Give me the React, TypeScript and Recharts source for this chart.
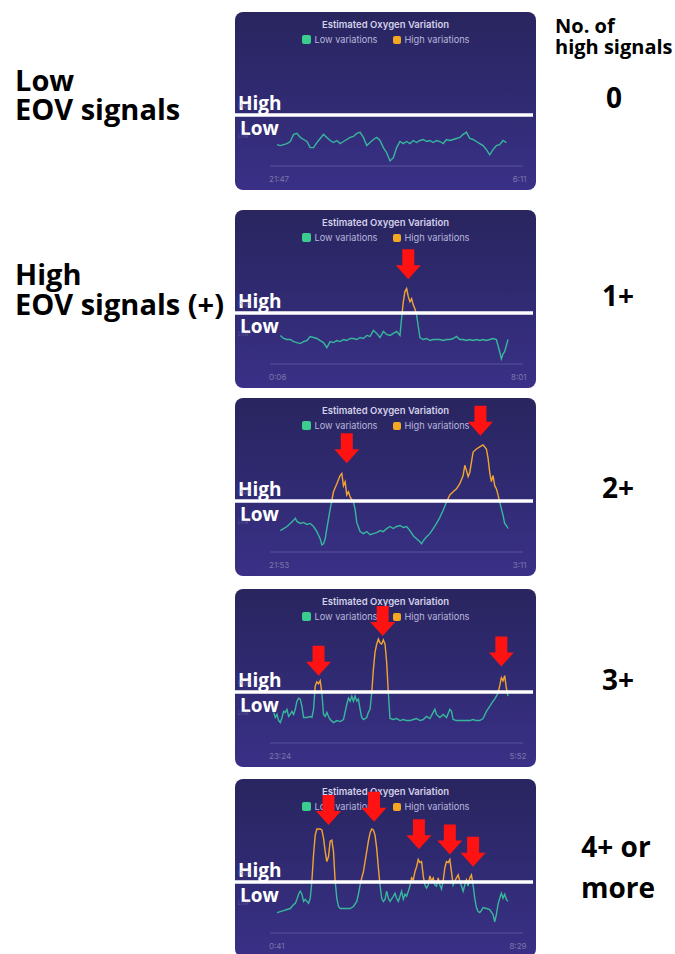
import React from 'react';
import { LineChart, Line, XAxis, YAxis, ReferenceLine, ReferenceDot } from 'recharts';

// ---------- shared settings ----------
const THRESHOLD = 50;
const Y_DOMAIN: [number, number] = [0, 150];
const EPOCH_DOMAIN: [number, number] = [0, 142];
const CHART_TITLE = 'Estimated Oxygen Variation';
const LEGEND_LABELS = ['Low variations', 'High variations'];
const Y_TICKS = [29, 59];
const Y_TICK_LABELS = ['Low', 'High'];

const LOW_COLOR = '#36b79b';
const HIGH_COLOR = '#f2a431';
const LOW_SWATCH = '#3acd8e';
const HIGH_SWATCH = '#f5a623';
const ARROW_COLOR = '#ff1212';

// ---------- night 1 (21:47 - 6:11) ----------
const night1Epoch = [3, 5, 7, 9, 11, 13, 15, 17, 19, 21, 23, 25, 27, 29, 31, 33, 35, 37, 39, 41, 43, 45, 47, 49, 51, 53, 55, 57, 59, 61, 63, 65, 67, 69, 71, 73, 75, 77, 79, 81, 83, 85, 87, 89, 91, 93, 95, 97, 99, 101, 103, 105, 107, 109, 111, 113, 115, 117, 119, 121, 123, 125, 127, 129, 131, 133, 135, 137, 139, 141];
const night1Value = [21, 20, 21, 22, 24, 31, 32, 28, 26, 24, 18, 18, 23, 27, 31, 28, 25, 23, 25, 22, 24, 26, 28, 29, 32, 33, 28, 20, 23, 26, 28, 25, 18, 13, 5, 8, 18, 24, 22, 24, 22, 25, 23, 25, 26, 24, 25, 23, 25, 24, 22, 26, 25, 26, 27, 28, 31, 33, 27, 26, 24, 22, 20, 16, 11, 16, 20, 21, 25, 23];

// ---------- night 2 (0:06 - 8:01) ----------
const night2Epoch = [5, 7, 9, 11, 13, 15, 17, 19, 21, 23, 25, 27, 29, 31, 33, 35, 37, 39, 41, 43, 45, 47, 49, 51, 53, 55, 57, 59, 61, 63, 65, 67, 69, 71, 73, 75, 77, 78, 79, 80, 81, 82, 83, 84, 85, 86, 87, 88, 89, 91, 93, 95, 97, 99, 101, 103, 105, 107, 109, 111, 113, 115, 117, 119, 121, 123, 125, 127, 129, 131, 133, 135, 137, 138, 139, 140, 142];
const night2Value = [28, 25, 24, 24, 22, 21, 20, 22, 23, 27, 26, 25, 23, 21, 16, 22, 21, 23, 22, 24, 23, 25, 25, 24, 26, 25, 28, 27, 33, 30, 26, 32, 29, 28, 30, 32, 28, 45, 61, 71, 74, 66, 61, 64, 58, 54, 48, 37, 26, 24, 25, 23, 24, 24, 24, 23, 24, 24, 25, 27, 24, 24, 23, 24, 23, 24, 23, 24, 23, 24, 25, 24, 12, 5, 10, 12, 24];

// ---------- night 3 (21:53 - 3:11) ----------
const night3Epoch = [5, 7, 9, 11, 13, 14, 15, 17, 19, 21, 23, 25, 27, 29, 30, 31, 32, 33, 35, 37, 39, 41, 42, 43, 44, 45, 46, 47, 49, 50, 51, 53, 55, 57, 59, 61, 63, 65, 67, 69, 71, 73, 75, 77, 79, 81, 83, 85, 87, 89, 90, 91, 93, 95, 97, 99, 101, 103, 105, 107, 109, 111, 113, 115, 116, 117, 118, 119, 121, 123, 125, 127, 129, 130, 131, 132, 133, 134, 135, 136, 137, 139, 140, 141, 142];
const night3Value = [21, 23, 25, 28, 31, 33, 30, 28, 29, 27, 28, 25, 20, 13, 7, 8, 13, 23, 42, 59, 67, 75, 77, 65, 69, 56, 59, 54, 49, 42, 29, 20, 18, 20, 17, 18, 19, 21, 20, 23, 25, 23, 25, 26, 24, 25, 21, 16, 13, 10, 8, 11, 15, 18, 23, 28, 34, 41, 49, 56, 59, 62, 67, 75, 85, 80, 74, 78, 98, 101, 103, 105, 101, 92, 78, 69, 75, 65, 62, 56, 49, 36, 28, 26, 23];

// ---------- night 4 (23:24 - 5:52) ----------
const night4Epoch = [1, 2, 3, 4, 5, 6, 7, 8, 9, 10, 11, 12, 13, 14, 15, 16, 17, 18, 19, 21, 23, 24, 25, 26, 27, 28, 29, 30, 31, 32, 33, 34, 35, 37, 39, 41, 43, 45, 46, 47, 48, 49, 50, 51, 52, 53, 54, 55, 57, 58, 59, 60, 61, 62, 63, 64, 65, 66, 67, 68, 69, 70, 71, 73, 75, 77, 79, 81, 83, 85, 87, 89, 91, 93, 95, 97, 98, 99, 101, 103, 105, 107, 108, 109, 111, 113, 115, 117, 119, 121, 123, 125, 127, 129, 131, 133, 134, 135, 136, 137, 138, 139, 140, 141, 142];
const night4Value = [30, 25, 28, 22, 20, 25, 31, 30, 33, 26, 28, 31, 28, 33, 41, 44, 43, 36, 25, 25, 26, 25, 33, 56, 60, 58, 61, 49, 28, 26, 30, 26, 23, 20, 22, 21, 23, 38, 44, 41, 46, 41, 46, 41, 43, 33, 25, 23, 25, 30, 33, 49, 72, 89, 97, 102, 98, 97, 101, 97, 79, 49, 24, 23, 24, 22, 23, 22, 22, 23, 24, 22, 23, 26, 24, 30, 33, 28, 25, 28, 25, 33, 31, 23, 22, 22, 22, 22, 22, 23, 22, 22, 24, 31, 36, 41, 43, 46, 49, 56, 64, 61, 66, 54, 46];

// ---------- night 5 (0:41 - 8:29) ----------
const night5Epoch = [3, 5, 7, 9, 11, 13, 14, 15, 16, 17, 18, 19, 20, 21, 22, 23, 24, 25, 26, 27, 28, 29, 30, 31, 32, 33, 34, 35, 36, 37, 38, 39, 40, 41, 43, 45, 47, 49, 51, 52, 53, 54, 55, 56, 57, 58, 59, 60, 61, 62, 63, 64, 65, 66, 67, 68, 69, 70, 71, 73, 74, 75, 76, 77, 78, 79, 80, 81, 82, 83, 84, 85, 86, 87, 88, 89, 90, 91, 92, 93, 94, 95, 96, 97, 98, 99, 100, 101, 102, 103, 104, 105, 106, 107, 108, 109, 110, 111, 112, 113, 114, 115, 116, 117, 118, 119, 120, 121, 122, 123, 124, 125, 126, 127, 129, 131, 133, 134, 135, 136, 137, 138, 139, 140, 141, 142];
const night5Value = [20, 21, 22, 23, 24, 28, 29, 33, 38, 41, 38, 31, 33, 31, 29, 34, 51, 77, 96, 102, 102, 102, 101, 93, 80, 70, 75, 90, 91, 80, 51, 34, 26, 24, 24, 24, 24, 26, 31, 38, 47, 54, 60, 70, 80, 90, 98, 102, 101, 96, 83, 64, 47, 34, 31, 33, 41, 34, 31, 36, 39, 34, 31, 36, 41, 33, 38, 36, 41, 46, 54, 52, 60, 65, 72, 69, 70, 56, 47, 44, 47, 56, 51, 54, 47, 46, 54, 47, 43, 51, 64, 70, 69, 72, 60, 47, 51, 54, 57, 51, 46, 41, 47, 52, 46, 54, 57, 47, 34, 25, 21, 20, 22, 25, 24, 23, 18, 11, 18, 28, 34, 39, 34, 38, 33, 31];

// ---------- arrows (tip position: epoch, value) ----------
const night2ArrowEpoch = [82];
const night2ArrowValue = [83];
const night3ArrowEpoch = [45, 125.4];
const night3ArrowValue = [87, 114];
const night4ArrowEpoch = [28, 66.6, 138];
const night4ArrowValue = [66, 105, 75];
const night5ArrowEpoch = [34, 61.4, 88.4, 107, 121];
const night5ArrowValue = [106, 109, 82, 77, 65];

// ---------- labels ----------
const startTimes = ['21:47', '0:06', '21:53', '23:24', '0:41'];
const endTimes = ['6:11', '8:01', '3:11', '5:52', '8:29'];
const signalCounts = ['0', '1+', '2+', '3+'];
const lastCountLines = ['4+ or', 'more'];

const nights = [
  { epochs: night1Epoch, values: night1Value, arrowE: [] as number[], arrowV: [] as number[] },
  { epochs: night2Epoch, values: night2Value, arrowE: night2ArrowEpoch, arrowV: night2ArrowValue },
  { epochs: night3Epoch, values: night3Value, arrowE: night3ArrowEpoch, arrowV: night3ArrowValue },
  { epochs: night4Epoch, values: night4Value, arrowE: night4ArrowEpoch, arrowV: night4ArrowValue },
  { epochs: night5Epoch, values: night5Value, arrowE: night5ArrowEpoch, arrowV: night5ArrowValue },
];

// layout
const PANEL_LEFT = 235;
const PANEL_W = 301;
const PANEL_H = 178;
const PANEL_TOPS = [12, 210, 398, 589, 779];
const COUNT_BASELINES = [108, 306, 498, 690];

const ArrowShape = (props: any) => {
  const { cx, cy } = props;
  const half = 12.5;
  const shaft = 6;
  const headH = 14;
  const total = 30;
  const pts = [
    [cx, cy],
    [cx - half, cy - headH],
    [cx - shaft, cy - headH],
    [cx - shaft, cy - total],
    [cx + shaft, cy - total],
    [cx + shaft, cy - headH],
    [cx + half, cy - headH],
  ]
    .map((p) => p.join(','))
    .join(' ');
  return <polygon points={pts} fill={ARROW_COLOR} />;
};

const ThresholdShape = (props: any) => {
  const { x1, x2, y1 } = props;
  const left = Math.min(x1, x2) - 35;
  const right = Math.max(x1, x2) + 10;
  const font = { fontFamily: "'Open Sans', sans-serif", fontWeight: 700, fontSize: 19, fill: '#ffffff' };
  return (
    <g>
      <line x1={left} x2={right} y1={y1} y2={y1} stroke="#ffffff" strokeWidth={3.5} />
      <text x={left + 3} y={y1 - 5.5} {...font}>High</text>
      <text x={left + 5} y={y1 + 19.5} {...font}>Low</text>
    </g>
  );
};

const TimeTick = (props: any) => {
  const { x, y, payload, start, end } = props;
  const first = payload.value === EPOCH_DOMAIN[0];
  return (
    <text
      x={first ? x - 3 : x + 18.5}
      y={y + 7.5}
      textAnchor={first ? 'start' : 'end'}
      fill="#7b77aa"
      fontSize={8}
      fontFamily="Inter, sans-serif"
    >
      {first ? start : end}
    </text>
  );
};

const FaintTick = (props: any) => {
  const { x, y, payload } = props;
  const idx = Y_TICKS.indexOf(payload.value);
  return (
    <text x={x - 24} y={y + 2} fill="#77739f" fillOpacity={0.6} fontSize={5.5} fontFamily="Inter, sans-serif">
      {Y_TICK_LABELS[idx]}
    </text>
  );
};

function Panel({ index }: { index: number }) {
  const night = nights[index];
  const data = night.epochs.map((e, i) => ({ epoch: e, value: night.values[i] }));
  const max = Math.max(...night.values);
  const min = Math.min(...night.values);
  const off = Math.min(1, Math.max(0, (max - THRESHOLD) / (max - min)));
  const gid = `eovGrad${index}`;
  return (
    <div
      style={{
        position: 'absolute',
        left: PANEL_LEFT,
        top: PANEL_TOPS[index],
        width: PANEL_W,
        height: PANEL_H,
        borderRadius: 8,
        overflow: 'hidden',
        background: 'linear-gradient(180deg, #29255f 0%, #2f2a70 45%, #3a3087 100%)',
      }}
    >
      <div
        style={{
          position: 'absolute',
          top: 7,
          left: 0,
          width: PANEL_W,
          textAlign: 'center',
          fontFamily: 'Inter, sans-serif',
          fontWeight: 600,
          fontSize: 9.5,
          lineHeight: '11px',
          color: '#d3d1e8',
        }}
      >
        {CHART_TITLE}
      </div>
      <div
        style={{
          position: 'absolute',
          top: 22,
          left: 0,
          width: PANEL_W,
          height: 11,
          display: 'flex',
          justifyContent: 'center',
          alignItems: 'center',
          fontFamily: 'Inter, sans-serif',
          fontSize: 9.2,
          color: '#b9b5dc',
        }}
      >
        <span style={{ width: 9, height: 9, background: LOW_SWATCH, borderRadius: 2, marginRight: 4 }} />
        <span style={{ marginRight: 16 }}>{LEGEND_LABELS[0]}</span>
        <span style={{ width: 8, height: 8, background: HIGH_SWATCH, borderRadius: 2, marginRight: 3 }} />
        <span>{LEGEND_LABELS[1]}</span>
      </div>
      <div style={{ position: 'absolute', left: 0, top: 0 }}>
        <LineChart width={PANEL_W} height={PANEL_H} data={data} margin={{ top: 1, right: 13, bottom: 0, left: 0 }}>
          <defs>
            <linearGradient id={gid} x1="0" y1="0" x2="0" y2="1">
              <stop offset={0} stopColor={HIGH_COLOR} />
              <stop offset={off} stopColor={HIGH_COLOR} />
              <stop offset={off} stopColor={LOW_COLOR} />
              <stop offset={1} stopColor={LOW_COLOR} />
            </linearGradient>
          </defs>
          <XAxis
            dataKey="epoch"
            type="number"
            domain={EPOCH_DOMAIN}
            ticks={EPOCH_DOMAIN}
            interval={0}
            padding={{ left: 2, right: 15 }}
            height={24}
            axisLine={{ stroke: '#56539a', strokeWidth: 1 }}
            tickLine={false}
            tick={(p: any) => <TimeTick {...p} start={startTimes[index]} end={endTimes[index]} />}
          />
          <YAxis
            type="number"
            domain={Y_DOMAIN}
            ticks={Y_TICKS}
            interval={0}
            width={35}
            axisLine={false}
            tickLine={false}
            tick={(p: any) => <FaintTick {...p} />}
          />
          <Line
            type="linear"
            dataKey="value"
            stroke={`url(#${gid})`}
            strokeWidth={1.4}
            dot={false}
            activeDot={false}
            isAnimationActive={false}
          />
          <ReferenceLine y={THRESHOLD} shape={ThresholdShape} />
          {night.arrowE.map((e, i) => (
            <ReferenceDot key={i} x={e} y={night.arrowV[i]} r={1} shape={ArrowShape} />
          ))}
        </LineChart>
      </div>
    </div>
  );
}

export default function App() {
  const big = { fontFamily: "'Open Sans', sans-serif", fontWeight: 700, fill: '#000' };
  return (
    <div
      style={{
        position: 'absolute',
        left: 0,
        top: 0,
        width: 675,
        height: 954,
        overflow: 'hidden',
        background: '#ffffff',
      }}
    >
      <svg width={675} height={954} style={{ position: 'absolute', left: 0, top: 0 }}>
        <text x={15} y={91} fontSize={29} {...big}>Low</text>
        <text x={15} y={120} fontSize={29} {...big}>EOV signals</text>
        <text x={15} y={285} fontSize={29} {...big}>High</text>
        <text x={15} y={315} fontSize={29} {...big}>EOV signals (+)</text>
        <text x={555} y={33} fontSize={20} {...big}>No. of</text>
        <text x={555} y={54} fontSize={20} {...big}>high signals</text>
        {signalCounts.map((c, i) => (
          <text key={c} x={i === 0 ? 614 : 618} y={COUNT_BASELINES[i]} fontSize={28} textAnchor="middle" {...big}>
            {c}
          </text>
        ))}
        <text x={616} y={857} fontSize={28} textAnchor="middle" {...big}>{lastCountLines[0]}</text>
        <text x={618} y={898} fontSize={28} textAnchor="middle" {...big}>{lastCountLines[1]}</text>
      </svg>
      {nights.map((_, i) => (
        <Panel key={i} index={i} />
      ))}
    </div>
  );
}
